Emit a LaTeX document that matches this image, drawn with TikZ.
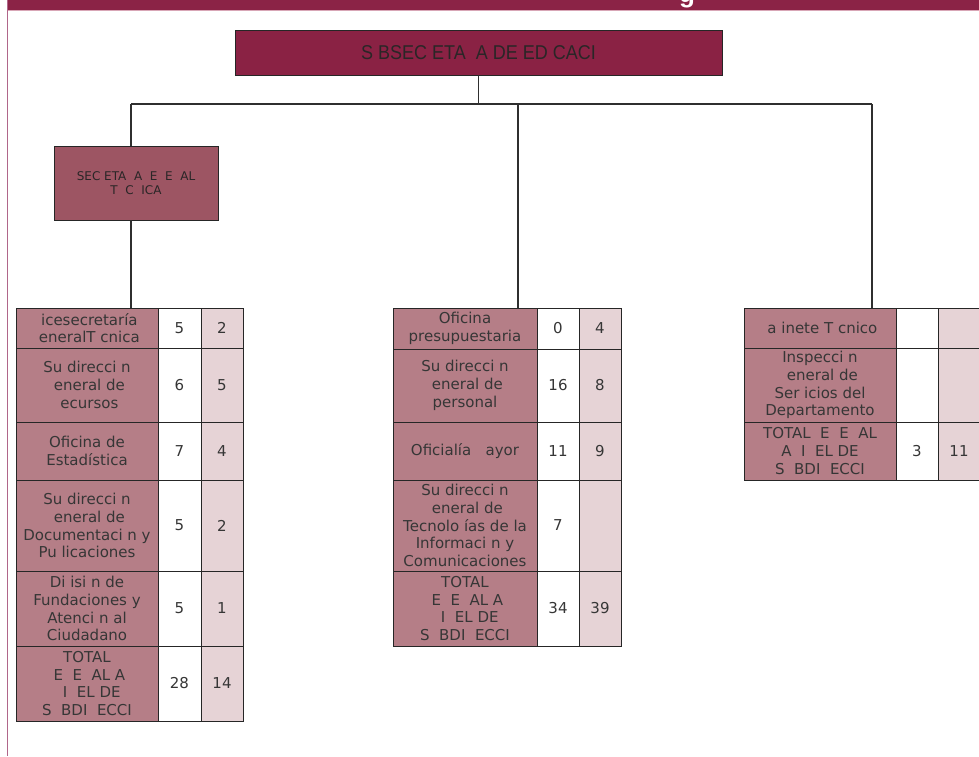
\documentclass[tikz,border=0pt]{standalone}
\usepackage{fontspec}
\setsansfont{DejaVu Sans}
\newfontfamily\headfont[FakeStretch=0.9]{Liberation Sans}
\newfontfamily\titlefont{Liberation Sans}
\usetikzlibrary{calc}
\definecolor{bandred}{HTML}{8B2346}
\definecolor{bandpink}{HTML}{D8A6B6}
\definecolor{framepink}{HTML}{B0668A}
\definecolor{headred}{HTML}{8A2244}
\definecolor{secrose}{HTML}{9D5563}
\definecolor{rosecell}{HTML}{B57E87}
\definecolor{paleshade}{HTML}{E6D3D6}
\definecolor{edgegray}{HTML}{262626}
\definecolor{linkgray}{HTML}{2F2F2F}
\definecolor{celltext}{HTML}{363636}
\definecolor{headtext}{HTML}{2A2627}
\tikzset{
  link/.style={line width=1.4pt,draw=linkgray},
  orgbox/.style={draw=edgegray,line width=1pt,align=center,inner sep=2pt,outer sep=0pt},
  headbox/.style={orgbox,fill=headred,minimum width=487pt,minimum height=45pt,
    font=\headfont\fontsize{20}{23}\selectfont,text=headtext},
  secbox/.style={orgbox,fill=secrose,minimum width=164pt,minimum height=74pt,
    font=\sffamily\fontsize{12}{13.5}\selectfont,text=headtext},
  cell/.style={draw=edgegray,line width=1pt,anchor=north west,align=center,
    inner sep=1pt,outer sep=0pt,text=celltext,font=\sffamily\fontsize{15}{17.8}\selectfont},
  namecell/.style={cell,fill=rosecell,minimum width=142pt},
  numcell/.style={cell,fill=white,minimum width=43pt},
  palecell/.style={cell,fill=paleshade,minimum width=42pt}
}

\begin{document}
\begin{tikzpicture}[x=1pt,y=-1pt]
  \useasboundingbox (0,0) rectangle (979,756);
  \fill[white] (0,0) rectangle (979,756);

  % frame of the page
  \fill[bandred] (7,0) rectangle (979,9.5);
  \draw[bandpink,line width=1pt] (8,10) -- (979,10);
  \draw[framepink,line width=1.6pt] (7.6,0) -- (7.6,756);
  \node[font=\titlefont\bfseries\fontsize{26}{26}\selectfont,text=white,anchor=base,inner sep=0pt] (titlecut) at (687,2) {g};

  % head of the chart
  \node[headbox] (head) at (478.5,52.5) {S~BSEC~ETA~~A~DE~ED~CACI};
  \node[secbox] (sec) at (136,183) {SEC~ETA~~A~~E~~E~~AL\\T~~C~~ICA};

  \coordinate (busL) at (131,104);
  \coordinate (busC) at (518,104);
  \coordinate (busR) at (872,104);

  % left table
  \node[namecell,minimum height=40pt] (vicesec) at (16,308) {~icesecretaría\\~eneralT~cnica};
  \node[numcell,minimum height=40pt] (vicesecA) at (158,308) {5};
  \node[palecell,minimum height=40pt] (vicesecB) at (201,308) {2};
  \node[namecell,minimum height=74pt] (recursos) at (16,348) {Su~direcci~n\\~eneral de\\~ecursos};
  \node[numcell,minimum height=74pt] (recursosA) at (158,348) {6};
  \node[palecell,minimum height=74pt] (recursosB) at (201,348) {5};
  \node[namecell,minimum height=58pt] (estad) at (16,422) {Oficina de\\Estadística};
  \node[numcell,minimum height=58pt] (estadA) at (158,422) {7};
  \node[palecell,minimum height=58pt] (estadB) at (201,422) {4};
  \node[namecell,minimum height=91pt] (docum) at (16,480) {Su~direcci~n\\~eneral de\\Documentaci~n y\\Pu~licaciones};
  \node[numcell,minimum height=91pt] (documA) at (158,480) {5};
  \node[palecell,minimum height=91pt] (documB) at (201,480) {2};
  \node[namecell,minimum height=75pt] (fundac) at (16,571) {Di~isi~n de\\Fundaciones y\\Atenci~n al\\Ciudadano};
  \node[numcell,minimum height=75pt] (fundacA) at (158,571) {5};
  \node[palecell,minimum height=75pt] (fundacB) at (201,571) {1};
  \node[namecell,minimum height=75pt] (totleft) at (16,646) {TOTAL\\~E~~E~~AL~A\\~~I~~EL~DE\\S~~BDI~~ECCI};
  \node[numcell,minimum height=75pt] (totleftA) at (158,646) {28};
  \node[palecell,minimum height=75pt] (totleftB) at (201,646) {14};

  % middle table
  \node[namecell,minimum width=144pt,minimum height=41pt] (presup) at (393,308) {Oficina\\presupuestaria};
  \node[numcell,minimum width=42pt,minimum height=41pt] (presupA) at (537,308) {0};
  \node[palecell,minimum height=41pt] (presupB) at (579,308) {4};
  \node[namecell,minimum width=144pt,minimum height=73pt] (personal) at (393,349) {Su~direcci~n\\~eneral de\\personal};
  \node[numcell,minimum width=42pt,minimum height=73pt] (personalA) at (537,349) {16};
  \node[palecell,minimum height=73pt] (personalB) at (579,349) {8};
  \node[namecell,minimum width=144pt,minimum height=58pt] (mayor) at (393,422) {Oficialía~~~ayor};
  \node[numcell,minimum width=42pt,minimum height=58pt] (mayorA) at (537,422) {11};
  \node[palecell,minimum height=58pt] (mayorB) at (579,422) {9};
  \node[namecell,minimum width=144pt,minimum height=91pt] (tecno) at (393,480) {Su~direcci~n\\~eneral de\\Tecnolo~ías de la\\Informaci~n y\\Comunicaciones};
  \node[numcell,minimum width=42pt,minimum height=91pt] (tecnoA) at (537,480) {7};
  \node[palecell,minimum height=91pt] (tecnoB) at (579,480) {};
  \node[namecell,minimum width=144pt,minimum height=75pt] (totmid) at (393,571) {TOTAL\\~E~~E~~AL~A\\~~I~~EL~DE\\S~~BDI~~ECCI};
  \node[numcell,minimum width=42pt,minimum height=75pt] (totmidA) at (537,571) {34};
  \node[palecell,minimum height=75pt] (totmidB) at (579,571) {39};

  % right table
  \node[namecell,minimum width=152pt,minimum height=40pt] (gabinete) at (744,308) {~a~inete~T~cnico};
  \node[numcell,minimum width=42pt,minimum height=40pt] (gabineteA) at (896,308) {};
  \node[palecell,minimum height=40pt] (gabineteB) at (938,308) {};
  \node[namecell,minimum width=152pt,minimum height=74pt] (inspec) at (744,348) {Inspecci~n\\~eneral de\\Ser~icios del\\Departamento};
  \node[numcell,minimum width=42pt,minimum height=74pt] (inspecA) at (896,348) {};
  \node[palecell,minimum height=74pt] (inspecB) at (938,348) {};
  \node[namecell,minimum width=152pt,minimum height=58pt] (totright) at (744,422) {TOTAL~~E~~E~~AL\\A~~I~~EL~DE\\S~~BDI~~ECCI};
  \node[numcell,minimum width=42pt,minimum height=58pt] (totrightA) at (896,422) {3};
  \node[palecell,minimum height=58pt] (totrightB) at (938,422) {11};

  % connectors
  \draw[link] (head.south) -- (head.south |- busL);
  \draw[link] (busL) -- (busR);
  \draw[link] (busL) -- (busL |- sec.north);
  \draw[link] (busL |- sec.south) -- (busL |- vicesec.north);
  \draw[link] (busC) -- (busC |- presup.north);
  \draw[link] (busR) -- (busR |- gabinete.north);
\end{tikzpicture}
\end{document}
